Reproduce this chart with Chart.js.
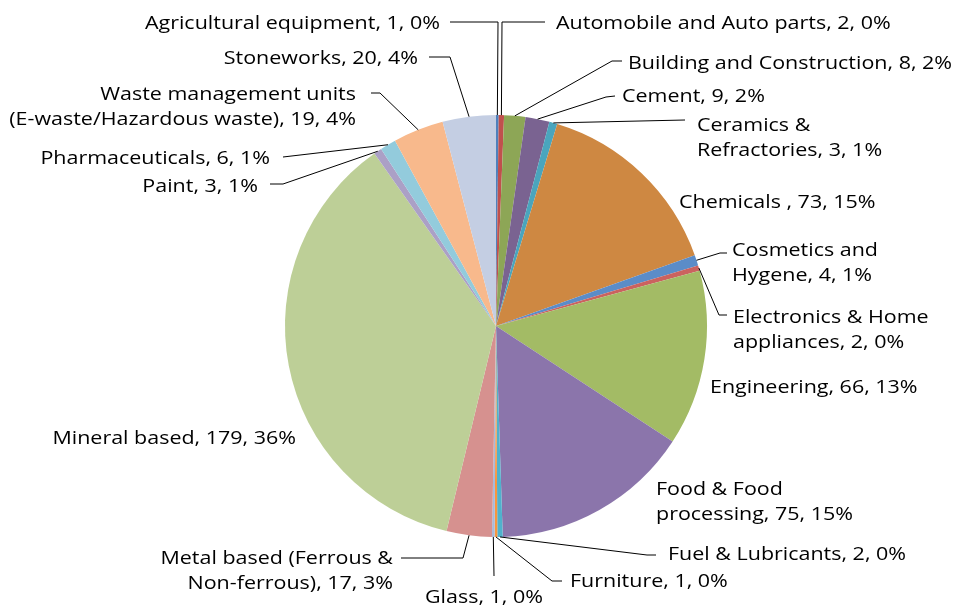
<!DOCTYPE html>
<html>
<head>
<meta charset="utf-8">
<script src="https://cdn.jsdelivr.net/npm/chart.js@4"></script>
<style>
html,body{margin:0;padding:0;background:#fff;}
#wrap{width:956px;height:605px;position:relative;}
</style>
</head>
<body>
<div id="wrap"><canvas id="c" width="956" height="605"></canvas></div>
<script>
// ---- data ----
const categories = [
  "Agricultural equipment", "Automobile and Auto parts", "Building and Construction",
  "Cement", "Ceramics & Refractories", "Chemicals ", "Cosmetics and Hygene",
  "Electronics & Home appliances", "Engineering", "Food & Food processing",
  "Fuel & Lubricants", "Furniture", "Glass", "Metal based (Ferrous & Non-ferrous)",
  "Mineral based", "Paint", "Pharmaceuticals",
  "Waste management units (E-waste/Hazardous waste)", "Stoneworks"
];
const counts = [1, 2, 8, 9, 3, 73, 4, 2, 66, 75, 2, 1, 1, 17, 179, 3, 6, 19, 20];

// ---- styles ----
const sliceColors = [
  "#4F81BD", "#C0504D", "#8DA656", "#7A6391", "#4AA5BD", "#CE8842",
  "#5B8CC8", "#CB625F", "#A3BB65", "#8B75AB", "#4FB2CC", "#F7963F",
  "#A9BADA", "#D6918F", "#BDCF97", "#ABA0C6", "#93CBDC", "#F8B98C", "#C4CEE3"
];

// ---- label layout (text anchor, alignment, line wrap, leader path) ----
const labelLayout = [
  {x:440, y:22,  align:"right",  wrap:0, path:[[498,22],[450,22]]},
  {x:556, y:22,  align:"left",   wrap:0, path:[[502,22],[545,22]]},
  {x:628, y:62,  align:"left",   wrap:0, path:[[612,61],[622,61]]},
  {x:622, y:95,  align:"left",   wrap:0, path:[[606,97],[615,96]]},
  {x:697, y:124, align:"left",   wrap:2, path:[[685,120]]},
  {x:679, y:201, align:"left",   wrap:0, path:null},
  {x:732, y:249, align:"left",   wrap:2, path:[[720,253],[727,253]]},
  {x:733, y:316, align:"left",   wrap:3, path:[[719,315],[727,315]]},
  {x:710, y:386, align:"left",   wrap:0, path:null},
  {x:656, y:488, align:"left",   wrap:3, path:null},
  {x:668, y:553, align:"left",   wrap:0, path:[[647,555],[656,555]]},
  {x:570, y:580, align:"left",   wrap:0, path:[[552,581],[562,581]]},
  {x:484, y:596, align:"center", wrap:0, path:[[494,576]]},
  {x:393, y:557, align:"right",  wrap:4, path:[[463,558],[401,558]]},
  {x:296, y:437, align:"right",  wrap:0, path:null},
  {x:258, y:185, align:"right",  wrap:0, path:[[283,184],[270,184]]},
  {x:270, y:157, align:"right",  wrap:0, path:[[283,157]]},
  {x:356, y:93,  align:"right",  wrap:3, path:[[380,93],[371,93]]},
  {x:418, y:57,  align:"right",  wrap:0, path:[[450,57],[429,57]]}
];
const FONT = '19px "Open Sans", sans-serif';
const TEXT_STRETCH = 1.13;
const TEXT_DY = 2;
const LINE_H = 24.5;

const total = counts.reduce((a,b)=>a+b,0);

const outsideLabels = {
  id: "outsideLabels",
  afterDatasetsDraw(chart) {
    const ctx = chart.ctx;
    const meta = chart.getDatasetMeta(0);
    meta.data.forEach((arc, i) => {
      const L = labelLayout[i];
      const p = arc.getProps(["x","y","startAngle","endAngle","outerRadius"], true);
      const mid = (p.startAngle + p.endAngle) / 2;
      const sx = p.x + Math.cos(mid) * p.outerRadius;
      const sy = p.y + Math.sin(mid) * p.outerRadius;
      ctx.save();
      if (L.path) {
        ctx.beginPath();
        ctx.moveTo(sx, sy);
        L.path.forEach(pt => ctx.lineTo(pt[0], pt[1]));
        ctx.strokeStyle = "#000";
        ctx.lineWidth = 1;
        ctx.stroke();
      }
      const pct = Math.round(counts[i] / total * 100);
      const full = categories[i] + ", " + counts[i] + ", " + pct + "%";
      let lines = [full];
      if (L.wrap) {
        const words = full.split(" ");
        lines = [words.slice(0, L.wrap).join(" "), words.slice(L.wrap).join(" ")];
      }
      ctx.translate(L.x, L.y + TEXT_DY);
      ctx.scale(TEXT_STRETCH, 1);
      ctx.font = FONT;
      ctx.fillStyle = "#000";
      ctx.textAlign = L.align;
      ctx.textBaseline = "middle";
      lines.forEach((t, k) => ctx.fillText(t, 0, k * LINE_H));
      ctx.restore();
    });
  }
};

new Chart(document.getElementById("c"), {
  type: "pie",
  data: {
    labels: categories,
    datasets: [{
      data: counts,
      backgroundColor: sliceColors,
      borderWidth: 0
    }]
  },
  options: {
    responsive: false,
    animation: false,
    events: [],
    layout: { padding: { top: 115, bottom: 68, left: 285, right: 249 } },
    plugins: { legend: { display: false }, tooltip: { enabled: false } }
  },
  plugins: [outsideLabels]
});
</script>
</body>
</html>
